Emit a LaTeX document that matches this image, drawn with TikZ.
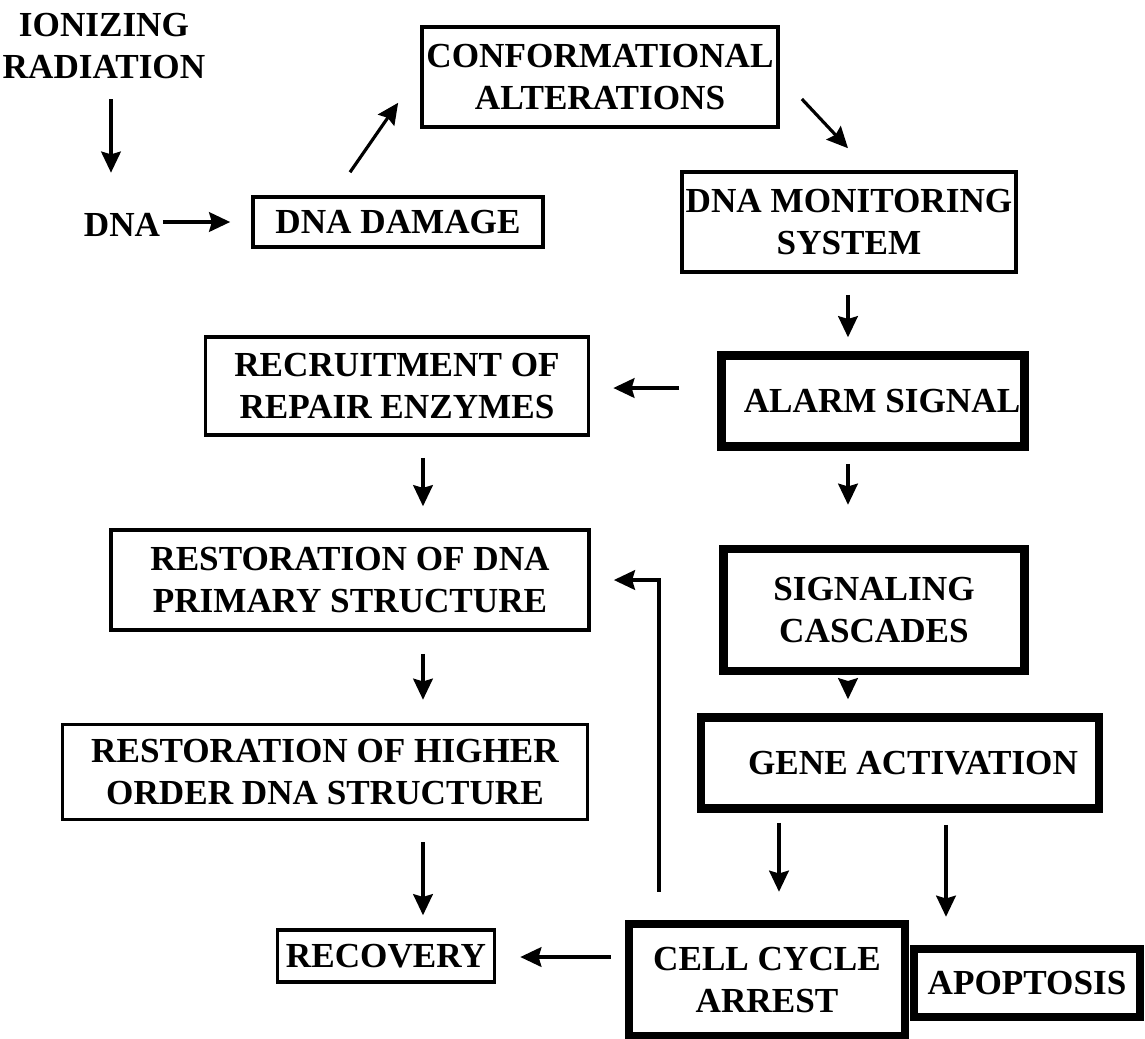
\documentclass[tikz,border=0pt]{standalone}
\usepackage{fontspec}
\setmainfont{Liberation Serif}
\usetikzlibrary{arrows.meta,calc}
\tikzset{
  box/.style={
    draw,
    line width=1pt,
    align=center,
    inner sep=0pt,
    font=\bfseries\fontsize{10}{11.7}\selectfont,
  },
  heavybox/.style={
    box,
    line width=2.4pt,
  },
  freetext/.style={
    align=center,
    inner sep=0pt,
    font=\bfseries\fontsize{10}{11.7}\selectfont,
  },
  arr/.style={
    line width=0.9pt,
    -{Stealth[length=6pt,width=5.6pt,inset=0.8pt]},
  }
}

\begin{document}
\begin{tikzpicture}[x=0.01cm, y=0.01cm]
  \useasboundingbox (0, 0) rectangle (1145, -1038);

  % left column
  \node[freetext] (rad) at (104, -46) {IONIZING\\RADIATION};
  \node[freetext] (dna) at (122, -225) {DNA};
  \node[box, minimum width=2.90cm, minimum height=0.50cm] (damage) at (398, -222) {DNA DAMAGE};
  \node[box, minimum width=3.56cm, minimum height=1.00cm] (conform) at (600, -77) {CONFORMATIONAL\\ALTERATIONS};
  \node[box, minimum width=3.83cm, minimum height=0.98cm] (recruit) at (397, -386) {RECRUITMENT OF\\REPAIR ENZYMES};
  \node[box, minimum width=4.78cm, minimum height=1.00cm] (primary) at (350, -580) {RESTORATION OF DNA\\PRIMARY STRUCTURE};
  \node[box, minimum width=5.25cm, minimum height=0.95cm] (higher) at (325, -772) {RESTORATION OF HIGHER\\ORDER DNA STRUCTURE};
  \node[box, minimum width=2.17cm, minimum height=0.52cm] (recovery) at (386, -956) {RECOVERY};

  % right column
  \node[box, minimum width=3.34cm, minimum height=1.00cm] (monitor) at (849, -222) {DNA MONITORING\\SYSTEM};
  \node[heavybox, minimum width=3.03cm, minimum height=0.91cm] (alarm) at (873, -401) {\hspace{0.18cm}ALARM SIGNAL};
  \node[heavybox, minimum width=3.01cm, minimum height=1.22cm] (signal) at (874, -610) {SIGNALING\\CASCADES};
  \node[heavybox, minimum width=3.98cm, minimum height=0.91cm] (gene) at (900, -763) {\hspace{0.26cm}GENE ACTIVATION};
  \node[heavybox, minimum width=2.76cm, minimum height=1.12cm] (arrest) at (767, -980) {CELL CYCLE\\ARREST};
  \node[heavybox, minimum width=2.26cm, minimum height=0.68cm] (apop) at (1027, -983) {APOPTOSIS};

  \draw[arr] ($(rad.south)+(7,-20)$) -- ($(dna.north)+(-11,40)$);
  \draw[arr] ($(dna.east)+(2,3)$) -- ($(damage.west)+(-21,0)$);
  \draw[arr] ($(damage.north)+(-48,23)$) -- ($(conform.south west)+(-22,26)$);
  \draw[arr] ($(conform.east)+(22,-22)$) -- ($(monitor.north)+(-1,22)$);
  \draw[arr] ($(monitor.south)+(-1,-21)$) -- ($(alarm.north)+(-25,14)$);
  \draw[arr] ($(alarm.west)+(-38,13)$) -- ($(recruit.east)+(23,-2)$);
  \draw[arr] ($(recruit.south)+(26,-21)$) -- ($(primary.north)+(73,22)$);
  \draw[arr] ($(alarm.south)+(-25,-13)$) -- ($(signal.north)+(-26,40)$);
  \draw[arr] ($(primary.south)+(73,-22)$) -- ($(higher.north)+(98,23)$);
  \draw[arr] ($(signal.south)+(-26,-6)$) -- ($(gene.north)+(-52,14)$);
  \draw[arr] ($(higher.south)+(98,-21)$) -- ($(recovery.north)+(37,13)$);
  \draw[arr] ($(gene.south)+(-121,-10)$) -- ($(arrest.north)+(12,28)$);
  \draw[arr] ($(gene.south)+(46,-12)$) -- ($(apop.north)+(-81,28)$);
  \draw[arr] ($(arrest.west)+(-14,23)$) -- ($(recovery.east)+(24,-1)$);
  \draw[arr] ($(arrest.north)+(-108,28)$) |- ($(primary.east)+(23,0)$);

\end{tikzpicture}
\end{document}
